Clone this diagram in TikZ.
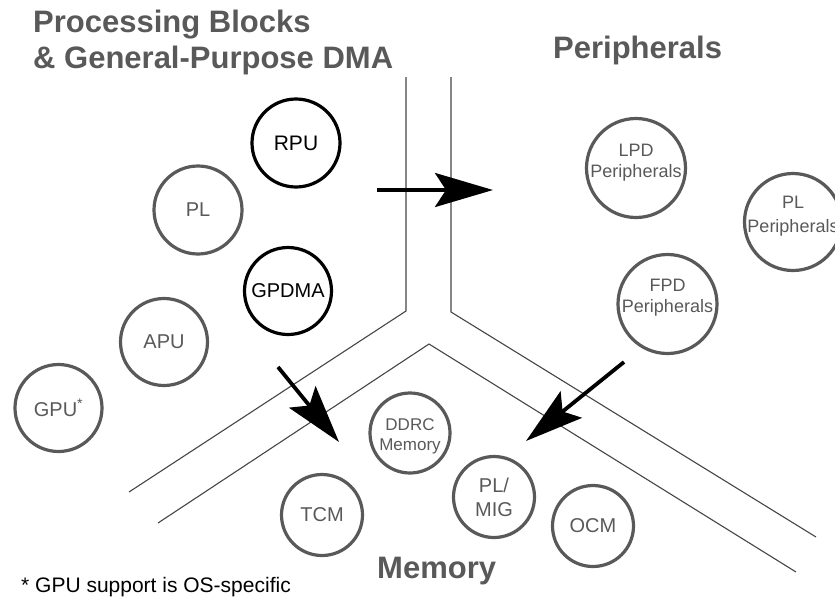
\documentclass[tikz,border=0pt]{standalone}
\usepackage{fontspec}
\setmainfont{Liberation Sans}
\usetikzlibrary{arrows.meta}
\definecolor{ringgray}{HTML}{595959}
\definecolor{linegray}{HTML}{454545}
\begin{document}
\begin{tikzpicture}[x=1pt,y=-1pt,
  ring/.style={circle, draw=ringgray, line width=3.2pt, inner sep=0pt},
  ringk/.style={ring, draw=black},
  lbl/.style={inner sep=0pt, text=ringgray, align=center, font=\fontsize{20}{24}\selectfont},
  lblk/.style={lbl, text=black},
  lblp/.style={lbl, font=\fontsize{18}{21}\selectfont},
  head/.style={inner sep=0pt, anchor=base west, text=ringgray, font=\fontsize{31}{36}\selectfont\bfseries},
  part/.style={draw=linegray, line width=1.1pt},
  flow/.style={draw=black, line width=3.8pt, -{Stealth[length=58pt, width=34pt, inset=11pt]}}
]
\useasboundingbox (0,0) rectangle (835,598);

% headings
\node[head] (h1a) at (33,32) {Processing Blocks};
\node[head] (h1b) at (33,68) {\& General-Purpose DMA};
\node[head] (h2) at (553,58) {Peripherals};
\node[head] (h3) at (377,578) {Memory};
\node[inner sep=0pt, anchor=base west, font=\fontsize{21}{24}\selectfont] (note) at (21,592) {* GPU support is OS-specific};

% partition lines
\coordinate (l1a) at (406,77);
\coordinate (l1b) at (406,311);
\coordinate (l1c) at (129,492);
\coordinate (l2a) at (451,77);
\coordinate (l2b) at (451,312);
\coordinate (l2c) at (816,537);
\coordinate (l3a) at (158,523);
\coordinate (l3b) at (429,344);
\coordinate (l3c) at (796,572);
\draw[part] (l1a) -- (l1b) -- (l1c);
\draw[part] (l2a) -- (l2b) -- (l2c);
\draw[part] (l3a) -- (l3b) -- (l3c);

% processing blocks
\node[ringk, minimum size=88pt] (rpu) at (296,143) {};
\node[lblk, font=\fontsize{21}{24}\selectfont] (rpu-t) at (rpu) {RPU};
\node[ring, minimum size=88pt] (pl) at (198,210) {};
\node[lbl] (pl-t) at (pl) {PL};
\node[ringk, minimum size=87pt] (gpdma) at (288,291) {};
\node[lblk] (gpdma-t) at (gpdma) {GPDMA};
\node[ring, minimum size=87pt] (apu) at (164,342) {};
\node[lbl] (apu-t) at (apu) {APU};
\node[ring, minimum size=87pt] (gpu) at (58.5,408) {};
\node[lbl] (gpu-t) at (gpu) {GPU\textsuperscript{*}};

% peripherals
\node[ring, minimum size=99pt] (lpd) at (636,168) {};
\node[lblp, yshift=5pt] (lpd-t) at (lpd) {LPD\\Peripherals};
\node[ring, minimum size=97pt] (plp) at (793,222) {};
\node[lblp, yshift=6pt, font=\fontsize{18}{24}\selectfont] (plp-t) at (plp) {PL\\Peripherals};
\node[ring, minimum size=99pt] (fpd) at (667.5,304) {};
\node[lblp, yshift=6pt] (fpd-t) at (fpd) {FPD\\Peripherals};

% memory
\node[ring, minimum size=81pt] (tcm) at (322,515) {};
\node[lbl] (tcm-t) at (tcm) {TCM};
\node[ring, minimum size=80pt] (ddrc) at (410,433) {};
\node[lbl, yshift=-3pt, font=\fontsize{17}{20}\selectfont] (ddrc-t) at (ddrc) {DDRC\\Memory};
\node[ring, minimum size=81pt] (mig) at (494,497) {};
\node[lbl] (mig-t) at (mig) {PL/\\MIG};
\node[ring, minimum size=81pt] (ocm) at (593,526) {};
\node[lbl] (ocm-t) at (ocm) {OCM};

% flow arrows
\coordinate (a1s) at (377,190);
\coordinate (a1e) at (493,190);
\coordinate (a2s) at (278,367);
\coordinate (a2e) at (339,442);
\coordinate (a3s) at (624,362);
\coordinate (a3e) at (526,441);
\draw[flow] (a1s) -- (a1e);
\draw[flow] (a2s) -- (a2e);
\draw[flow] (a3s) -- (a3e);
\end{tikzpicture}
\end{document}
